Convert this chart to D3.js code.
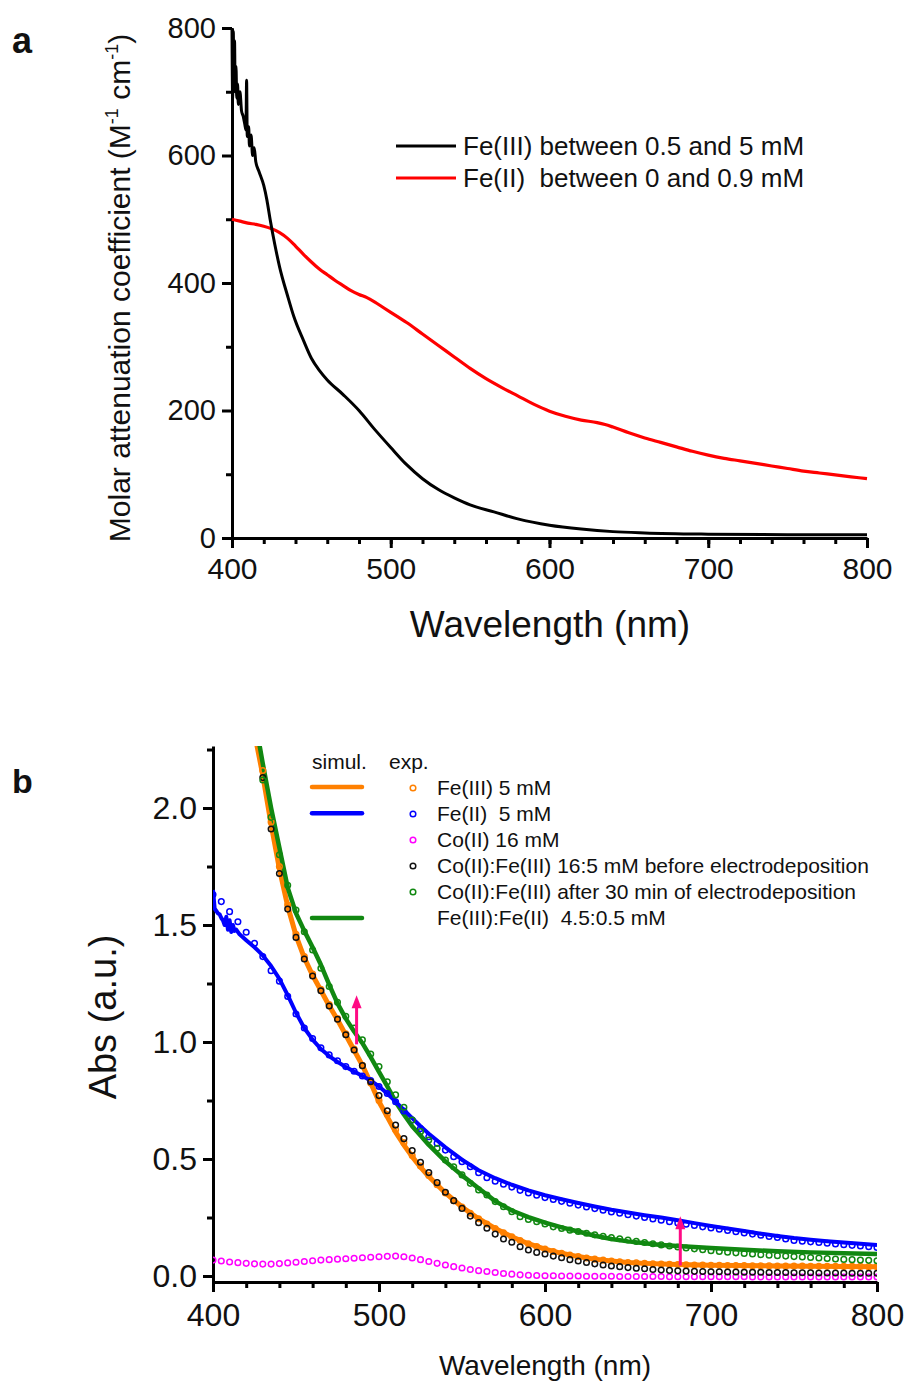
<!DOCTYPE html>
<html>
<head>
<meta charset="utf-8">
<script src="https://cdn.jsdelivr.net/npm/d3@7"></script>
<style>
  body { margin: 0; background: #fff; }
  text { font-family: "Liberation Sans", Arial, sans-serif; fill: #111; }
</style>
</head>
<body>
<script>

// ---------- panel a : molar attenuation coefficient ----------
var fe3Molar = [[400,800],[400.4,690],[400.8,795],[401.2,720],[401.6,780],[402,700],[402.5,740],[403,690],
  [403.5,712],[404,680],[405,700],[406,670],[407,662],[408,650],[408.8,640],[409.2,718],[409.6,630],[410.5,645],
  [411,615],[412,632],[413,600],[414,612],[415,590],[417,575],[420,553],[422,530],[424,500],[427,460],[430,425],
  [435,380],[439,347],[445,310],[450,282],[455,263],[460,248],[470,225],[480,200],[490,170],[500,142],[510,115],
  [520,93],[530,76],[540,63],[550,52],[565,41],[580,30],[600,20],[620,14],[640,10],[660,8],[700,6],[750,5],[800,5]];

var fe2Molar = [[400,500],[405,497],[410,494],[415,492],[420,489],[425,485],[430,479],[435,470],[440,458],
  [445,445],[450,433],[455,422],[460,413],[465,404],[470,396],[475,388],[480,382],[485,377],[490,370],[495,362],
  [500,354],[505,346],[510,338],[520,320],[530,302],[540,284],[550,266],[560,250],[570,236],[580,223],[590,210],
  [600,199],[610,191],[620,185],[630,181],[635,178],[640,174],[650,165],[660,157],[670,150],[680,143],[690,136],
  [700,130],[710,125],[720,121],[730,117],[740,113],[750,109],[760,105],[770,102],[780,99],[790,96],[800,93]];

var aXTicks = [400, 500, 600, 700, 800];
var aYTicks = [0, 200, 400, 600, 800];
var aLegend = ["Fe(III) between 0.5 and 5 mM", "Fe(II)  between 0 and 0.9 mM"];

// ---------- panel b : absorbance ----------
// simulated spectra
var fe3Sim = [[425,2.32],[430,2.14],[435,1.93],[440,1.74],[445,1.58],[450,1.455],[455,1.36],[460,1.285],
  [465,1.22],[470,1.155],[475,1.095],[480,1.03],[485,0.965],[490,0.9],[495,0.825],[500,0.745],[505,0.68],
  [510,0.615],[515,0.56],[520,0.51],[525,0.465],[530,0.425],[540,0.355],[550,0.295],[560,0.245],[570,0.203],
  [580,0.168],[590,0.138],[600,0.115],[610,0.097],[620,0.083],[630,0.072],[640,0.064],[650,0.058],[660,0.054],
  [680,0.049],[700,0.046],[740,0.043],[800,0.04]];

var fe2Sim = [[400,1.65],[401,1.57],[402,1.56],[403,1.55],[404,1.545],[405,1.53],[406,1.52],[407,1.5],
  [408,1.535],[409,1.48],[410,1.52],[411,1.47],[412,1.5],[413,1.475],[414,1.48],[416,1.46],[420,1.435],
  [425,1.405],[430,1.37],[435,1.325],[440,1.27],[445,1.2],[450,1.125],[455,1.06],[460,1.01],[465,0.97],
  [470,0.94],[475,0.915],[480,0.893],[485,0.874],[490,0.855],[495,0.835],[500,0.81],[505,0.78],[510,0.745],
  [515,0.71],[520,0.675],[525,0.64],[530,0.608],[540,0.55],[550,0.497],[560,0.452],[570,0.418],[580,0.39],
  [590,0.366],[600,0.345],[610,0.328],[620,0.312],[630,0.297],[640,0.283],[650,0.271],[660,0.26],[670,0.25],
  [680,0.238],[690,0.226],[700,0.214],[710,0.203],[720,0.192],[730,0.181],[740,0.171],[750,0.162],[760,0.155],
  [770,0.149],[780,0.143],[790,0.138],[800,0.133]];

var mixSim = [[428,2.27],[430,2.19],[435,2.0],[440,1.83],[445,1.66],[450,1.55],[455,1.475],[460,1.405],
  [465,1.33],[470,1.245],[475,1.165],[480,1.1],[485,1.045],[490,0.995],[495,0.935],[500,0.872],[505,0.81],
  [510,0.745],[515,0.69],[520,0.64],[525,0.6],[530,0.56],[540,0.49],[550,0.43],[560,0.375],[570,0.32],
  [580,0.28],[590,0.252],[600,0.228],[610,0.208],[620,0.19],[630,0.172],[640,0.158],[650,0.148],[660,0.14],
  [670,0.133],[680,0.128],[690,0.124],[700,0.12],[720,0.112],[740,0.106],[760,0.101],[780,0.097],[800,0.094]];

// experimental spectra, one value every 5 nm from 400 to 800 (null = off scale)
var expWl = d3.range(400, 801, 5);

var fe3Exp = [null,null,null,null,null,null,
  2.16,1.94,1.75,1.585,1.46,1.365,1.29,1.225,1.16,1.1,
  1.035,0.97,0.9,0.825,0.75,0.69,0.625,0.57,0.515,0.47,
  0.43,0.39,0.355,0.322,0.295,0.268,0.245,0.222,0.203,0.185,
  0.168,0.152,0.138,0.126,0.115,0.105,0.097,0.09,0.083,0.077,
  0.072,0.068,0.064,0.061,0.058,0.056,0.054,0.052,0.051,0.05,
  0.049,0.048,0.047,0.047,0.046,
  0.046,0.045,0.045,0.045,0.044,0.044,0.044,0.043,0.043,0.043,
  0.043,0.042,0.042,0.042,0.042,0.041,0.041,0.041,0.04,0.04];

var fe2Exp = [1.63,1.6,1.557,1.514,1.469,1.422,1.365,1.305,1.26,1.195,
  1.12,1.06,1.015,0.975,0.945,0.92,0.895,0.875,0.855,0.835,
  0.81,0.78,0.745,0.705,0.667,0.63,0.595,0.567,0.538,0.51,
  0.488,0.467,0.441,0.42,0.405,0.392,0.38,0.366,0.355,0.345,
  0.335,0.327,0.319,0.311,0.303,0.295,0.288,0.281,0.274,0.268,
  0.262,0.256,0.25,0.244,0.238,0.232,0.227,0.221,0.216,0.21,
  0.205,0.2,0.195,0.189,0.184,0.179,0.174,0.169,0.165,0.158,
  0.152,0.149,0.146,0.143,0.14,0.137,0.134,0.131,0.128,0.125,
  0.122];

var co2Exp = [0.068,0.064,0.06,0.057,0.054,0.052,0.051,0.051,0.053,0.056,
  0.059,0.062,0.065,0.068,0.07,0.072,0.074,0.076,0.078,0.08,
  0.082,0.084,0.085,0.082,0.077,0.07,0.062,0.054,0.047,0.04,
  0.034,0.028,0.023,0.019,0.015,0.011,0.008,0.005,0.003,0.002,
  0.001,0.001,0,0,0,-0.001,-0.001,-0.001,-0.001,-0.002,
  -0.002,-0.002,-0.002,-0.002,-0.002,-0.003,-0.003,-0.003,-0.003,-0.003,
  -0.003,-0.003,-0.003,-0.003,-0.003,-0.004,-0.004,-0.004,-0.004,-0.004,
  -0.004,-0.004,-0.004,-0.004,-0.004,-0.004,-0.004,-0.004,-0.004,-0.004,
  -0.004];

var mixBeforeExp = [null,null,null,null,null,null,
  2.13,1.91,1.72,1.568,1.447,1.355,1.282,1.219,1.154,1.097,
  1.031,0.966,0.899,0.83,0.771,0.706,0.645,0.587,0.536,0.486,
  0.442,0.399,0.358,0.322,0.289,0.256,0.228,0.204,0.179,0.158,
  0.144,0.125,0.111,0.101,0.094,0.085,0.078,0.07,0.064,0.058,
  0.052,0.047,0.043,0.04,0.036,0.033,0.031,0.028,0.026,0.024,
  0.022,0.021,0.02,0.019,0.018,
  0.018,0.017,0.017,0.016,0.016,0.016,0.015,0.015,0.015,0.014,
  0.014,0.014,0.013,0.013,0.013,0.013,0.012,0.012,0.012,0.012];

var mixAfterExp = [null,null,null,null,null,null,
  2.12,1.96,1.8,1.67,1.564,1.471,1.393,1.315,1.237,1.17,
  1.11,1.06,1.009,0.949,0.895,0.83,0.774,0.721,0.667,0.617,
  0.581,0.546,0.496,0.467,0.432,0.396,0.368,0.346,0.318,0.296,
  0.275,0.253,0.242,0.232,0.222,
  0.21,0.203,0.196,0.19,0.183,0.176,0.17,0.164,0.159,0.154,
  0.148,0.143,0.138,0.133,0.128,0.124,0.12,0.116,0.112,0.108,
  0.105,0.102,0.099,0.096,0.094,0.091,0.089,0.087,0.085,0.083,
  0.081,0.079,0.077,0.075,0.073,0.071,0.07,0.068,0.067,0.065];

// pink arrows: wavelength, start, end
var arrows = [[486.5, 0.99, 1.2], [681.5, 0.045, 0.255]];

var bXTicks = [400, 500, 600, 700, 800];
var bYTicks = [0, 0.5, 1.0, 1.5, 2.0];
var bLegend = ["Fe(III) 5 mM", "Fe(II)  5 mM", "Co(II) 16 mM",
  "Co(II):Fe(III) 16:5 mM before electrodeposition",
  "Co(II):Fe(III) after 30 min of electrodeposition",
  "Fe(III):Fe(II)  4.5:0.5 mM"];

var ORANGE = "#ff8000", BLUE = "#0000ff", GREEN = "#118811", MAGENTA = "#ff00ff", PINK = "#ff0a84";

var svg = d3.select("body").append("svg")
    .attr("width", 911)
    .attr("height", 1382);

function styleAxis(g, w) {
  g.select(".domain").attr("stroke", "#000").attr("stroke-width", w);
  g.selectAll(".tick line").attr("stroke", "#000").attr("stroke-width", w);
}

// ================= panel a =================
var xa = d3.scaleLinear().domain([400, 800]).range([232, 867]);
var ya = d3.scaleLinear().domain([0, 800]).range([538, 28]);

var gaX = svg.append("g").attr("transform", "translate(0,538)")
    .call(d3.axisBottom(xa).tickValues(aXTicks).tickSize(10).tickSizeOuter(0).tickPadding(8));
svg.append("g").attr("transform", "translate(0,538)")
    .call(d3.axisBottom(xa).tickValues(d3.range(420, 800, 20)).tickSize(6).tickFormat(""))
    .call(function(g) { g.select(".domain").remove(); g.selectAll("line").attr("stroke-width", 3); });
styleAxis(gaX, 3);
gaX.selectAll("text").attr("font-size", 30).attr("fill", "#111").attr("dy", "0.75em");

var gaY = svg.append("g").attr("transform", "translate(232,0)")
    .call(d3.axisLeft(ya).tickValues(aYTicks).tickSize(10).tickSizeOuter(0).tickPadding(6));
svg.append("g").attr("transform", "translate(232,0)")
    .call(d3.axisLeft(ya).tickValues([100, 300, 500, 700]).tickSize(6).tickFormat(""))
    .call(function(g) { g.select(".domain").remove(); g.selectAll("line").attr("stroke-width", 3); });
styleAxis(gaY, 3);
gaY.selectAll("text").attr("font-size", 29).attr("fill", "#111");

var lineA = d3.line().curve(d3.curveMonotoneX)
    .x(function(d) { return xa(d[0]); }).y(function(d) { return ya(d[1]); });

svg.append("path").datum(fe2Molar).attr("d", lineA)
    .attr("fill", "none").attr("stroke", "#ff0000").attr("stroke-width", 3.2);
svg.append("path").datum(fe3Molar).attr("d", lineA)
    .attr("fill", "none").attr("stroke", "#000").attr("stroke-width", 3);

// legend a
aLegend.forEach(function(t, i) {
  var yy = 146 + i * 32;
  svg.append("line").attr("x1", 396).attr("x2", 456).attr("y1", yy).attr("y2", yy)
      .attr("stroke", i == 0 ? "#000" : "#ff0000").attr("stroke-width", 3);
  svg.append("text").attr("x", 463).attr("y", yy + 9).attr("font-size", 26)
      .style("white-space", "pre").text(t);
});

// axis titles a
svg.append("text").attr("x", 550).attr("y", 637).attr("text-anchor", "middle")
    .attr("font-size", 37).text("Wavelength (nm)");

var ylabA = svg.append("text").attr("transform", "translate(130,288) rotate(-90)")
    .attr("text-anchor", "middle").attr("font-size", 30);
ylabA.append("tspan").text("Molar attenuation coefficient (M");
ylabA.append("tspan").attr("font-size", 18).attr("dy", -12).text("-1");
ylabA.append("tspan").attr("dy", 12).text(" cm");
ylabA.append("tspan").attr("font-size", 18).attr("dy", -12).text("-1");
ylabA.append("tspan").attr("dy", 12).text(")");

svg.append("text").attr("x", 12).attr("y", 53).attr("font-size", 36)
    .attr("font-weight", "bold").attr("fill", "#000").text("a");

// ================= panel b =================
var xb = d3.scaleLinear().domain([400, 800]).range([213, 877]);
var yb = d3.scaleLinear().domain([-0.0256, 2.265]).range([1282, 746]);

svg.append("clipPath").attr("id", "clipb").append("rect")
    .attr("x", 213).attr("y", 746).attr("width", 664).attr("height", 536);

var gbX = svg.append("g").attr("transform", "translate(0,1282)")
    .call(d3.axisBottom(xb).tickValues(bXTicks).tickSize(10).tickSizeOuter(0).tickPadding(8));
svg.append("g").attr("transform", "translate(0,1282)")
    .call(d3.axisBottom(xb).tickValues(d3.range(420, 800, 20)).tickSize(6).tickFormat(""))
    .call(function(g) { g.select(".domain").remove(); g.selectAll("line").attr("stroke-width", 3); });
styleAxis(gbX, 3);
gbX.selectAll("text").attr("font-size", 32).attr("fill", "#111").attr("dy", "0.8em");

var gbY = svg.append("g").attr("transform", "translate(213,0)")
    .call(d3.axisLeft(yb).tickValues(bYTicks).tickSize(10).tickSizeOuter(0).tickPadding(6)
      .tickFormat(d3.format(".1f")));
svg.append("g").attr("transform", "translate(213,0)")
    .call(d3.axisLeft(yb).tickValues([0.25, 0.75, 1.25, 1.75, 2.25]).tickSize(6).tickFormat(""))
    .call(function(g) { g.select(".domain").remove(); g.selectAll("line").attr("stroke-width", 3); });
styleAxis(gbY, 3);
gbY.selectAll("text").attr("font-size", 32).attr("fill", "#111");

var plotB = svg.append("g").attr("clip-path", "url(#clipb)");
var lineB = d3.line().x(function(d) { return xb(d[0]); }).y(function(d) { return yb(d[1]); });

[[fe3Sim, ORANGE, 5], [mixSim, GREEN, 4.5], [fe2Sim, BLUE, 4]].forEach(function(s) {
  plotB.append("path").datum(s[0]).attr("d", lineB)
      .attr("fill", "none").attr("stroke", s[1]).attr("stroke-width", s[2])
      .attr("stroke-linejoin", "round");
});

function drawExp(vals, color) {
  plotB.append("g").selectAll("circle")
    .data(expWl.map(function(w, i) { return [w, vals[i]]; })
               .filter(function(d) { return d[1] != null; }))
    .enter().append("circle")
      .attr("cx", function(d) { return xb(d[0]); })
      .attr("cy", function(d) { return yb(d[1]); })
      .attr("r", 2.8)
      .attr("fill", "none")
      .attr("stroke", color)
      .attr("stroke-width", 1.5);
}
drawExp(fe3Exp, ORANGE);
drawExp(fe2Exp, BLUE);
drawExp(co2Exp, MAGENTA);
drawExp(mixBeforeExp, "#111");
drawExp(mixAfterExp, GREEN);

// arrows
arrows.forEach(function(a) {
  var x = xb(a[0]), y0 = yb(a[1]), y1 = yb(a[2]);
  svg.append("line").attr("x1", x).attr("x2", x).attr("y1", y0).attr("y2", y1 + 10)
      .attr("stroke", PINK).attr("stroke-width", 3);
  svg.append("path").attr("d", "M" + x + "," + y1 + "L" + (x - 5) + "," + (y1 + 13) + "L" + (x + 5) + "," + (y1 + 13) + "Z")
      .attr("fill", PINK);
});

// legend b
svg.append("text").attr("x", 312).attr("y", 769).attr("font-size", 21).text("simul.");
svg.append("text").attr("x", 389).attr("y", 769).attr("font-size", 21).text("exp.");
var legColors = [ORANGE, BLUE, MAGENTA, "#111", GREEN];
bLegend.forEach(function(t, i) {
  var yy = 788 + i * 26;
  if (i < 5) {
    svg.append("circle").attr("cx", 413).attr("cy", yy).attr("r", 2.8)
        .attr("fill", "none").attr("stroke", legColors[i]).attr("stroke-width", 1.5);
  }
  svg.append("text").attr("x", 437).attr("y", yy + 7).attr("font-size", 21)
      .style("white-space", "pre").text(t);
});
[[ORANGE, 0], [BLUE, 1], [GREEN, 5]].forEach(function(l) {
  var yy = 787 + l[1] * 26.2;
  svg.append("line").attr("x1", 312).attr("x2", 362).attr("y1", yy).attr("y2", yy)
      .attr("stroke", l[0]).attr("stroke-width", 4.5).attr("stroke-linecap", "round");
});

// axis titles b
svg.append("text").attr("x", 545).attr("y", 1375).attr("text-anchor", "middle")
    .attr("font-size", 28).text("Wavelength (nm)");
svg.append("text").attr("transform", "translate(116,1017) rotate(-90)")
    .attr("text-anchor", "middle").attr("font-size", 38).text("Abs (a.u.)");

svg.append("text").attr("x", 12).attr("y", 793).attr("font-size", 34)
    .attr("font-weight", "bold").attr("fill", "#000").text("b");

</script>
</body>
</html>
